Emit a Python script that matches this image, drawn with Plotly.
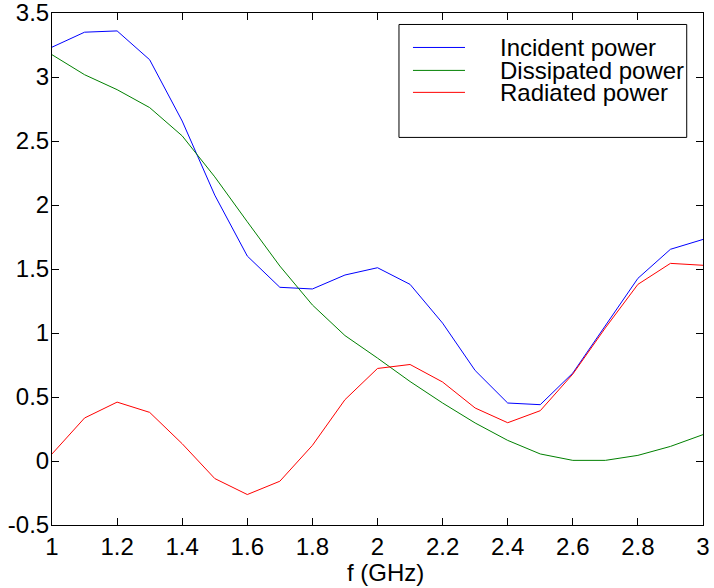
import plotly.graph_objects as go

freq = [1.0, 1.1, 1.2, 1.3, 1.4, 1.5, 1.6, 1.7, 1.8, 1.9, 2.0, 2.1, 2.2, 2.3, 2.4, 2.5, 2.6, 2.7, 2.8, 2.9, 3.0]
incident = [3.233, 3.35, 3.36, 3.135, 2.656, 2.077, 1.601, 1.357, 1.344, 1.453, 1.51, 1.38, 1.077, 0.707, 0.453, 0.44, 0.687, 1.06, 1.427, 1.654, 1.731]
dissipated = [3.174, 3.018, 2.901, 2.761, 2.54, 2.22, 1.869, 1.523, 1.219, 0.98, 0.804, 0.621, 0.453, 0.297, 0.161, 0.055, 0.005, 0.005, 0.044, 0.114, 0.206]
radiated = [0.055, 0.336, 0.46, 0.38, 0.135, -0.137, -0.262, -0.158, 0.122, 0.479, 0.723, 0.754, 0.617, 0.414, 0.299, 0.393, 0.679, 1.04, 1.38, 1.544, 1.529]

names = ["Incident power", "Dissipated power", "Radiated power"]
colors = ["#0000ff", "#008000", "#ff0000"]
series = [incident, dissipated, radiated]

x_ticks = [1, 1.2, 1.4, 1.6, 1.8, 2, 2.2, 2.4, 2.6, 2.8, 3]
x_labels = ["1", "1.2", "1.4", "1.6", "1.8", "2", "2.2", "2.4", "2.6", "2.8", "3"]
y_ticks = [-0.5, 0, 0.5, 1, 1.5, 2, 2.5, 3, 3.5]
y_labels = ["-0.5", "0", "0.5", "1", "1.5", "2", "2.5", "3", "3.5"]

FONT = "Liberation Sans, Arial, Helvetica, sans-serif"

fig = go.Figure()
for name, col, ys in zip(names, colors, series):
    fig.add_trace(go.Scatter(x=freq, y=ys, mode="lines", name=name,
                             line=dict(color=col, width=1), showlegend=False))

# manual legend
shapes = [dict(type="rect", xref="paper", yref="paper", x0=0.533, x1=0.975, y0=0.757, y1=0.9776,
               line=dict(color="black", width=1), fillcolor="white", layer="above")]
annotations = []
rows = [0.9327, 0.8879, 0.845]
for name, col, yr in zip(names, colors, rows):
    shapes.append(dict(type="line", xref="paper", yref="paper", x0=0.5545, x1=0.6344, y0=yr, y1=yr,
                       line=dict(color=col, width=1), layer="above"))
    annotations.append(dict(xref="paper", yref="paper", x=0.685, y=yr, text=name, showarrow=False,
                            xanchor="left", yanchor="middle", font=dict(family=FONT, size=24, color="black")))

# x-axis title
annotations.append(dict(xref="paper", yref="paper", x=0.512, y=-0.0926, text="f (GHz)", showarrow=False,
                        xanchor="center", yanchor="middle", font=dict(family=FONT, size=24, color="black")))

fig.update_layout(
    width=714, height=588,
    margin=dict(l=52, r=11, t=12.5, b=62.5),
    paper_bgcolor="white", plot_bgcolor="white",
    font=dict(family=FONT, size=24, color="black"),
    shapes=shapes, annotations=annotations,
    xaxis=dict(range=[1, 3], tickvals=x_ticks, ticktext=x_labels, ticks="inside", ticklen=7,
               tickcolor="black", showline=True, linecolor="black", linewidth=1, mirror="ticks",
               showgrid=False, zeroline=False, automargin=False, ticklabeloverflow="allow"),
    yaxis=dict(range=[-0.5, 3.5], tickvals=y_ticks, ticktext=y_labels, ticks="inside", ticklen=7,
               tickcolor="black", showline=True, linecolor="black", linewidth=1, mirror="ticks",
               showgrid=False, zeroline=False, automargin=False, ticklabelstandoff=-3,
               ticklabeloverflow="allow"),
)
fig.write_html("out.html", config={"displayModeBar": False},
               post_script="document.body.style.margin='0';document.body.style.padding='0';")
